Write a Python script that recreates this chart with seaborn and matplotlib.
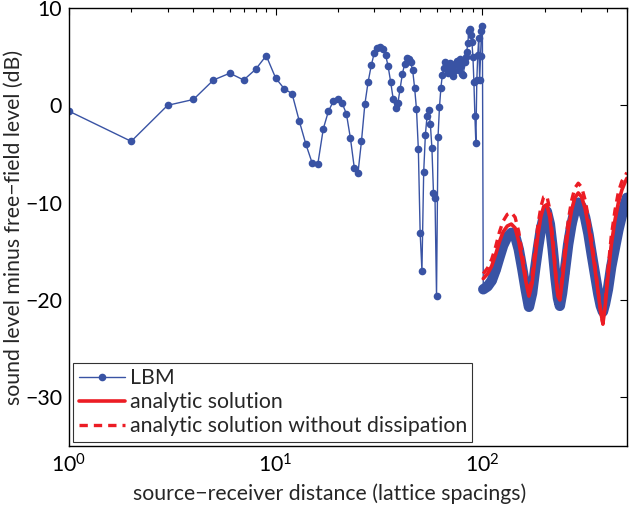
import matplotlib
matplotlib.use('Agg')

import matplotlib.pyplot as plt
import seaborn as sns
from matplotlib.ticker import LogLocator, FixedLocator

# LBM samples at integer distances 1..100
near_x = list(range(1, 101))
near_y = [
    -0.6, -3.7, 0.0, 0.6, 2.6, 3.3, 2.6, 3.7, 5.1, 2.8,
    1.7, 1.2, -1.6, -4.0, -5.9, -6.0, -2.4, -0.6, 0.4, 0.7,
    0.2, -0.9, -3.4, -6.4, -7.0, -3.7, 0.1, 2.4, 4.1, 5.4,
    5.9, 6.0, 5.8, 5.2, 4.0, 2.4, 0.7, -0.3, 0.2, 1.7,
    3.2, 4.2, 4.9, 4.8, 4.4, 3.6, 1.8, -0.4, -4.5, -13.1,
    -17.0, -6.9, -3.0, -1.1, -0.5, -1.9, -4.4, -9.0, -9.5, -19.6,
    -3.3, -0.2, 1.8, 3.1, 3.8, 4.4, 3.9, 3.3, 3.6, 4.3,
    3.8, 3.0, 3.5, 4.2, 4.6, 4.1, 3.6, 4.8, 4.0, 3.2,
    3.1, 4.4, 5.0, 5.5, 6.4, 7.6, 7.8, 7.2, 6.5, 5.0,
    2.4, -1.1, -3.9, 2.6, 5.2, 6.9, 2.6, 5.1, 7.6, 8.1,
]

# far field, 100..500
far_x = [101, 106, 111, 116, 121, 126, 132, 138, 144, 150,
         156, 162, 168, 174, 180, 186, 192, 198, 205, 212,
         219, 226, 232, 237, 243, 250, 260, 270, 280, 291,
         302, 314, 326, 338, 351, 364, 374, 383, 392, 405,
         420, 438, 455, 473, 490, 500]
lbm_far = [-18.9, -18.6, -18.0, -16.9, -15.6, -14.4, -13.5, -13.1, -13.4, -14.8,
           -16.8, -18.9, -20.7, -19.3, -16.8, -14.6, -12.7, -11.5, -10.9, -12.2,
           -14.8, -17.8, -19.8, -20.6, -19.3, -17.2, -14.3, -12.2, -10.8, -10.0,
           -10.4, -11.5, -13.2, -15.3, -17.4, -19.4, -20.6, -21.2, -20.4, -18.9,
           -16.6, -14.6, -12.8, -11.3, -10.1, -9.5]
analytic = [-17.8, -17.3, -16.5, -15.3, -14.0, -13.0, -12.4, -12.2, -12.6, -14.0,
            -16.0, -18.0, -19.6, -18.3, -15.6, -13.2, -11.4, -10.4, -10.2, -11.5,
            -14.2, -17.4, -19.6, -20.0, -18.2, -15.8, -12.8, -10.8, -9.5, -9.0,
            -9.4, -10.6, -12.4, -14.5, -16.9, -19.4, -21.3, -22.4, -20.8, -17.6,
            -14.4, -11.8, -10.0, -8.7, -7.9, -7.5]
analytic_nodiss = [-17.3, -16.7, -15.8, -14.5, -13.0, -11.9, -11.2, -11.0, -11.5, -13.0,
                   -15.3, -17.6, -19.4, -17.6, -14.7, -12.2, -10.4, -9.4, -9.3, -10.7,
                   -13.6, -17.0, -19.5, -19.9, -17.6, -15.0, -11.9, -9.8, -8.5, -8.0,
                   -8.4, -9.7, -11.6, -13.9, -16.5, -19.2, -21.3, -22.5, -20.4, -16.9,
                   -13.5, -10.8, -8.9, -7.8, -7.3, -6.9]

blue = '#3953a4'
red = '#ec1c24'
fs = 15.3

sns.set_style('white')
plt.rcParams['font.family'] = ['Lato', 'DejaVu Sans']
plt.rcParams['mathtext.fontset'] = 'custom'
plt.rcParams['mathtext.rm'] = 'Lato'
plt.rcParams['mathtext.it'] = 'Lato'
plt.rcParams['mathtext.default'] = 'regular'

fig = plt.figure(figsize=(6.3, 5.05), dpi=100)
ax = fig.add_axes([0.1095, 0.1168, 0.8855, 0.8674])

all_x = near_x + far_x
all_y = near_y + lbm_far
sns.lineplot(x=all_x, y=all_y, ax=ax, sort=False, estimator=None, color=blue,
             lw=1.0, marker='o', markersize=5.5, markeredgewidth=0, label='LBM')
sns.lineplot(x=far_x, y=lbm_far, ax=ax, sort=False, estimator=None, color=blue,
             lw=7.5, legend=False)
sns.lineplot(x=far_x, y=analytic, ax=ax, sort=False, estimator=None, color=red,
             lw=2.6, label='analytic solution')
sns.lineplot(x=far_x, y=analytic_nodiss, ax=ax, sort=False, estimator=None, color=red,
             lw=2.4, linestyle=(0, (2.5, 1.8)), label='analytic solution without dissipation')

ax.set_xscale('log')
ax.set_xlim(1, 500)
ax.set_ylim(-35, 10)
ax.yaxis.set_major_locator(FixedLocator([-30, -20, -10, 0, 10]))
ax.xaxis.set_major_locator(LogLocator(base=10, numticks=10))
ax.xaxis.set_minor_locator(LogLocator(base=10, subs=range(2, 10), numticks=20))
ax.tick_params(which='both', direction='in', top=True, right=True, colors='black',
               labelsize=fs, length=5, width=0.8, pad=5)
ax.tick_params(which='minor', length=3)
for s in ax.spines.values():
    s.set_color('black')
    s.set_linewidth(1.0)

ax.set_xlabel('source\u2212receiver distance (lattice spacings)', fontsize=fs, labelpad=0)
ax.xaxis.set_label_coords(0.468, -0.085)
ax.set_ylabel('sound level minus free\u2212field level (dB)', fontsize=fs, labelpad=1)

leg = ax.legend(loc='lower left', fontsize=fs, frameon=True, fancybox=False,
                borderaxespad=0.2, handlelength=2.2, handletextpad=0.2,
                labelspacing=0.2, borderpad=0.25)
leg.get_frame().set_edgecolor('black')
leg.get_frame().set_linewidth(0.8)

plt.savefig('out.png', dpi=100)
plt.close()
